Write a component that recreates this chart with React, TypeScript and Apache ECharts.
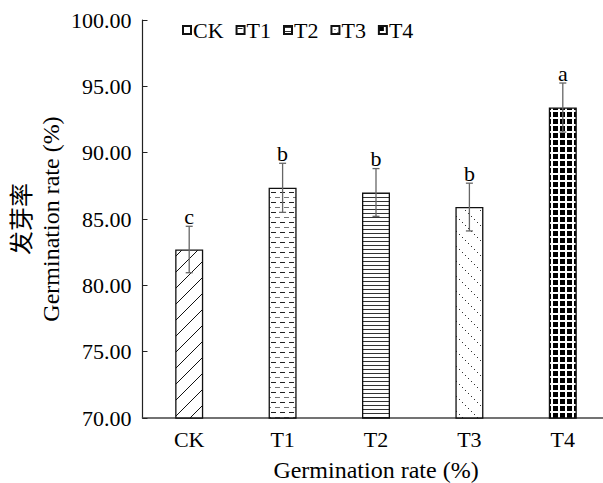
import React, { useEffect, useRef } from "react";
import * as echarts from "echarts";

const categories = ["CK", "T1", "T2", "T3", "T4"];
const values = [82.7, 87.35, 87.0, 85.9, 93.4];
const errors = [1.75, 1.85, 1.8, 1.8, 1.85];
const letters = ["c", "b", "b", "b", "a"];
const yTicks = { min: 70, max: 100, interval: 5 };

const FONT = "Liberation Serif, Times New Roman, Noto Sans CJK SC, serif";

function makeCanvas(w: number, h: number, draw: (ctx: CanvasRenderingContext2D) => void) {
  const c = document.createElement("canvas");
  c.width = w;
  c.height = h;
  const ctx = c.getContext("2d")!;
  ctx.fillStyle = "#fff";
  ctx.fillRect(0, 0, w, h);
  draw(ctx);
  return c;
}

function patterns() {
  const ck = makeCanvas(16, 16, (ctx) => {
    ctx.strokeStyle = "#111";
    ctx.lineWidth = 1;
    ctx.beginPath();
    ctx.moveTo(0, 16);
    ctx.lineTo(16, 0);
    ctx.moveTo(-8, 8);
    ctx.lineTo(8, -8);
    ctx.moveTo(8, 24);
    ctx.lineTo(24, 8);
    ctx.stroke();
  });
  const t1 = makeCanvas(9, 10, (ctx) => {
    ctx.fillStyle = "#222";
    ctx.fillRect(1, 2, 5, 1);
    ctx.fillStyle = "#777";
    ctx.fillRect(5, 7, 4, 1);
    ctx.fillRect(0, 7, 1, 1);
  });
  const t2 = makeCanvas(4, 4, (ctx) => {
    ctx.fillStyle = "#333";
    ctx.fillRect(0, 1, 4, 1);
  });
  const t3 = makeCanvas(15, 15, (ctx) => {
    ctx.fillStyle = "#333";
    for (let i = 0; i < 15; i += 3) {
      ctx.fillRect(i, i, 1, 1);
    }
  });
  const t4 = makeCanvas(7, 7, (ctx) => {
    ctx.fillStyle = "#000";
    ctx.fillRect(0, 0, 5, 5);
  });
  return [ck, t1, t2, t3, t4];
}

export default function App() {
  const ref = useRef<HTMLDivElement>(null);
  useEffect(() => {
    if (!ref.current) return;
    const chart = echarts.init(ref.current, null, { renderer: "svg" });
    const pats = patterns();
    const barSeries = categories.map((name, i) => ({
      name,
      type: "bar",
      barWidth: 28,
      barGap: "-100%",
      itemStyle: {
        color: { image: pats[i], repeat: "repeat" },
        borderColor: "#111",
        borderWidth: 1.3,
      },
      data: categories.map((_, j) => (j === i ? values[i] : "-")),
      z: 2,
    }));
    const errData = categories.map((_, i) => [i, values[i], errors[i]]);
    chart.setOption({
      animation: false,
      backgroundColor: "#fff",
      textStyle: { fontFamily: FONT },
      grid: { left: 142.5, right: -6.5, top: 20, bottom: 65, containLabel: false, outerBoundsMode: "none" },
      legend: {
        data: categories,
        left: 177,
        top: 14,
        itemWidth: 8,
        itemHeight: 8,
        itemGap: 12,
        icon: "rect",
        textStyle: { fontFamily: FONT, fontSize: 22, color: "#000", padding: [0, 0, 0, -3] },
      },
      xAxis: {
        type: "category",
        data: categories,
        name: "Germination rate (%)",
        nameLocation: "middle",
        nameGap: 40,
        nameMoveOverlap: false,
        nameTextStyle: { fontFamily: FONT, fontSize: 24, color: "#000" },
        axisLine: { lineStyle: { color: "#444", width: 1.5 } },
        axisTick: { show: false },
        axisLabel: { fontFamily: FONT, fontSize: 22, color: "#000", margin: 10 },
      },
      yAxis: {
        type: "value",
        min: yTicks.min,
        max: yTicks.max,
        interval: yTicks.interval,
        name: "发芽率\nGermination rate (%)",
        nameLocation: "middle",
        nameGap: 77,
        nameRotate: 90,
        nameMoveOverlap: false,
        nameTextStyle: { fontFamily: FONT, fontSize: 24, color: "#000", lineHeight: 29 },
        axisLine: { show: true, lineStyle: { color: "#222", width: 1.2 } },
        axisTick: { show: true, inside: true, length: 5, lineStyle: { color: "#222" } },
        splitLine: { show: false },
        axisLabel: {
          fontFamily: FONT,
          fontSize: 22,
          color: "#000",
          margin: 11,
          formatter: (v: number) => v.toFixed(2),
        },
      },
      series: [
        ...barSeries,
        {
          type: "custom",
          name: "err",
          z: 5,
          data: errData,
          renderItem: (params: any, api: any) => {
            const idx = api.value(0);
            const v = api.value(1);
            const e = api.value(2);
            const top = api.coord([idx, v + e]);
            const bot = api.coord([idx, v - e]);
            const x = top[0];
            const cap = 3.5;
            const stroke = { stroke: "#666", lineWidth: 1.3 };
            return {
              type: "group",
              children: [
                { type: "line", shape: { x1: x, y1: top[1], x2: x, y2: bot[1] }, style: stroke },
                { type: "line", shape: { x1: x - cap, y1: top[1], x2: x + cap, y2: top[1] }, style: stroke },
                { type: "line", shape: { x1: x - cap, y1: bot[1], x2: x + cap, y2: bot[1] }, style: stroke },
                {
                  type: "text",
                  x,
                  y: top[1] + 1,
                  style: {
                    text: letters[params.dataIndex],
                    font: `22px ${FONT}`,
                    fill: "#000",
                    align: "center",
                    verticalAlign: "bottom",
                  },
                },
              ],
            };
          },
        },
      ],
    } as any);
    return () => chart.dispose();
  }, []);
  return <div ref={ref} style={{ width: 603, height: 483, position: "absolute", left: 0, top: 0 }} />;
}
